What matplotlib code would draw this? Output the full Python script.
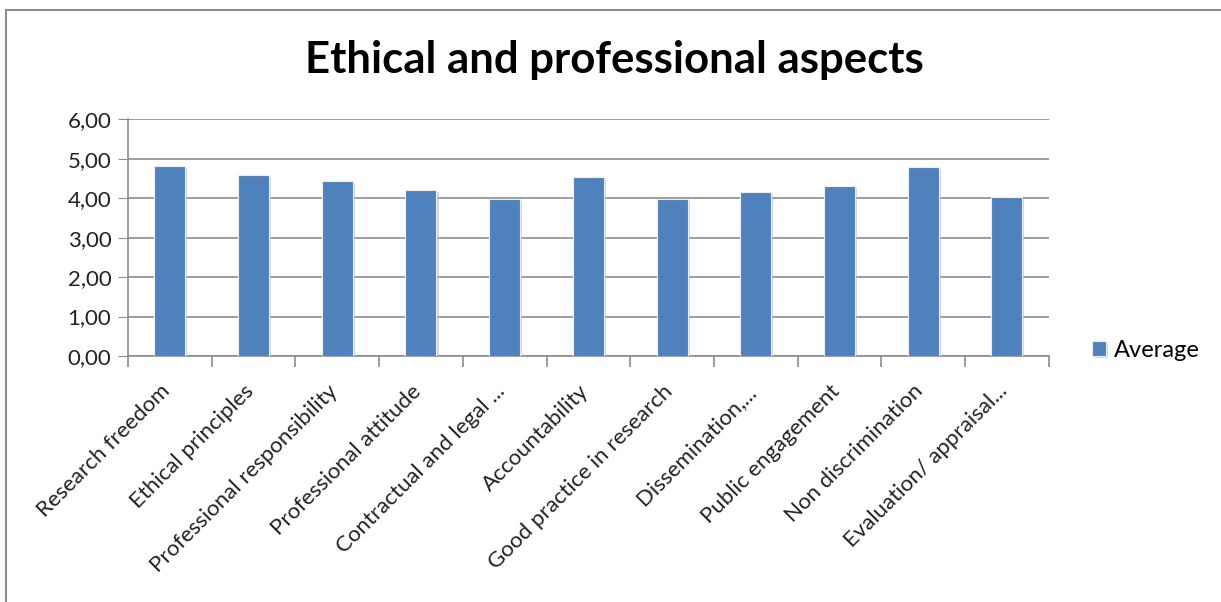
import numpy as np
import matplotlib.pyplot as plt
import matplotlib.patheffects as pe
import matplotlib.transforms as mtransforms
from matplotlib.patches import Rectangle

categories = ['Research freedom', 'Ethical principles', 'Professional responsibility',
              'Professional attitude', 'Contractual and legal ...', 'Accountability',
              'Good practice in research', 'Dissemination,...', 'Public engagement',
              'Non discrimination', 'Evaluation/ appraisal...']
average = [4.82, 4.60, 4.44, 4.22, 3.98, 4.53, 3.98, 4.15, 4.31, 4.79, 4.03]
yticks = [0, 1, 2, 3, 4, 5, 6]
ylabels = ['0,00', '1,00', '2,00', '3,00', '4,00', '5,00', '6,00']

plt.rcParams['font.family'] = ['Lato', 'DejaVu Sans']

W, H = 1221, 602
fig = plt.figure(figsize=(W/100, H/100), dpi=100)
fig.patch.set_facecolor('white')

# outer chart frame (left and top edges visible)
fig.add_artist(Rectangle((6/W, -0.05), 1.1, (H-10)/H + 0.05, transform=fig.transFigure,
                         fill=False, edgecolor='#8c8c8c', linewidth=1.5))

ax = fig.add_axes([128/W, 1-356/H, (1048.7-128)/W, (356-119.3)/H])
x = np.arange(len(categories))
bars = ax.bar(x, average, width=0.37, color='#4f81bd', edgecolor='#e8eef7',
              linewidth=0.8, zorder=3, label='Average')
for b in bars:
    b.set_path_effects([pe.SimplePatchShadow(offset=(1.5, -1.5), shadow_rgbFace='#bbbbbb', alpha=0.6),
                        pe.Normal()])

ax.set_xlim(-0.5, len(categories) - 0.5)
ax.set_ylim(0, 6)
ax.set_yticks(yticks)
ax.set_yticklabels(ylabels, fontsize=16, color='#222222')
ax.yaxis.grid(True, color='#8c8c8c', linewidth=1.2, zorder=0)
ax.tick_params(axis='y', length=7, color='#8c8c8c', pad=5)

ax.set_xticks(x)
ax.set_xticklabels(categories, rotation=45, ha='right', rotation_mode='anchor',
                   fontsize=16, color='#222222')
ax.tick_params(axis='x', length=0, pad=18)
shift = mtransforms.ScaledTranslation(-10/100, 0, fig.dpi_scale_trans)
for lab in ax.get_xticklabels():
    lab.set_transform(lab.get_transform() + shift)
ax.set_xticks(np.arange(len(categories) + 1) - 0.5, minor=True)
ax.tick_params(axis='x', which='minor', length=8, color='#8c8c8c', width=1.2)

for s in ['top', 'right']:
    ax.spines[s].set_visible(False)
for s in ['left', 'bottom']:
    ax.spines[s].set_color('#8c8c8c')
    ax.spines[s].set_linewidth(1.2)

fig.text(614/W, 1-60/H, 'Ethical and professional aspects', ha='center', va='center',
         fontsize=31.5, fontweight='bold', color='black')

leg = ax.legend(loc='center left', bbox_to_anchor=(1.047, 0.025), frameon=False,
                fontsize=17, handlelength=0.6, handleheight=0.6, handletextpad=0.35,
                borderaxespad=0, borderpad=0)

fig.savefig('out.png', dpi=100)
